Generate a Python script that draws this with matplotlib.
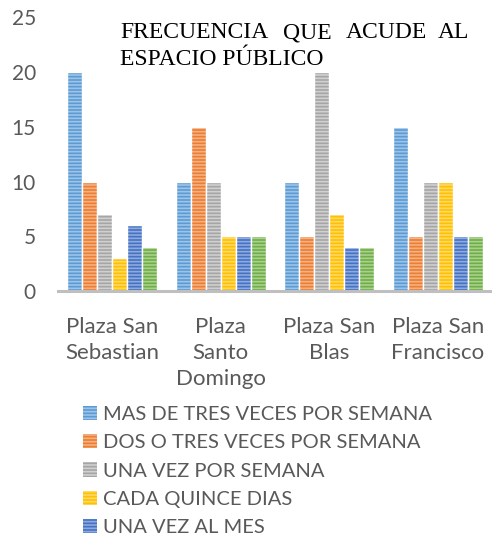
import matplotlib.pyplot as plt
import numpy as np

plazas = ["Plaza San\nSebastian", "Plaza\nSanto\nDomingo", "Plaza San\nBlas", "Plaza San\nFrancisco"]
series = ["MAS DE TRES VECES POR SEMANA", "DOS O TRES VECES POR SEMANA",
          "UNA VEZ POR SEMANA", "CADA QUINCE DIAS", "UNA VEZ AL MES", "OTRO"]
values = [
    [20, 10, 10, 15],
    [10, 15, 5, 5],
    [7, 10, 20, 10],
    [3, 5, 7, 10],
    [6, 5, 4, 5],
    [4, 5, 4, 5],
]
colors = ["#5B9BD5", "#ED7D31", "#A5A5A5", "#FFC000", "#4472C4", "#70AD47"]
light = ["#9DC3E6", "#F4B183", "#D0D0D0", "#FFD966", "#8FAADC", "#A9D18E"]

plt.rcParams['font.family'] = ['Lato', 'DejaVu Sans']
plt.rcParams['hatch.linewidth'] = 1.2

fig = plt.figure(figsize=(4.92, 5.38), dpi=100)
ax = fig.add_axes([0.118, 0.459, 0.882, 0.509])

x = np.arange(len(plazas))
w = 0.138
handles = []
for i, (name, vals) in enumerate(zip(series, values)):
    pos = x + (i - 2.5) * w
    b = ax.bar(pos, vals, w, color=colors[i], edgecolor=light[i], hatch='-----', linewidth=0,
               label=name if i < 5 else '_nolegend_')
    ax.bar(pos, vals, w, fill=False, edgecolor='white', linewidth=1.0)
    handles.append(b)

ax.set_xlim(-0.5, 3.5)
ax.set_ylim(0, 25)
ax.set_yticks([0, 5, 10, 15, 20, 25])
ax.set_xticks(x)
ax.set_xticklabels(plazas, fontsize=16, color='#595959', linespacing=1.36, va='top')
ax.tick_params(axis='y', labelsize=15, labelcolor='#595959', length=0, pad=16)
ax.tick_params(axis='x', length=0, pad=19)
for s in ['top', 'right', 'left']:
    ax.spines[s].set_visible(False)
ax.spines['bottom'].set_color('#BFBFBF')
ax.spines['bottom'].set_linewidth(2.2)
ax.spines['bottom'].set_bounds(-0.5, 3.5)

# justified two-line title
tfont = dict(family='Liberation Serif', fontsize=17, color='black', va='baseline')
for word, px, ha in [("FRECUENCIA", 120, 'left'), ("QUE", 283, 'left'),
                     ("ACUDE", 346, 'left'), ("AL", 469, 'right')]:
    fig.text(px / 492, 1 - 38 / 538, word, ha=ha, **tfont)
fig.text(120 / 492, 1 - 65 / 538, "ESPACIO PÚBLICO", **tfont)

fig.legend(handles=handles[:5], loc='upper left', bbox_to_anchor=(73 / 492, 1 - 396 / 538),
           frameon=False, fontsize=14.5, labelcolor='#595959', handlelength=0.7,
           handleheight=0.7, handletextpad=0.3, labelspacing=0.55, borderpad=0)

fig.savefig("out.png", dpi=100)
